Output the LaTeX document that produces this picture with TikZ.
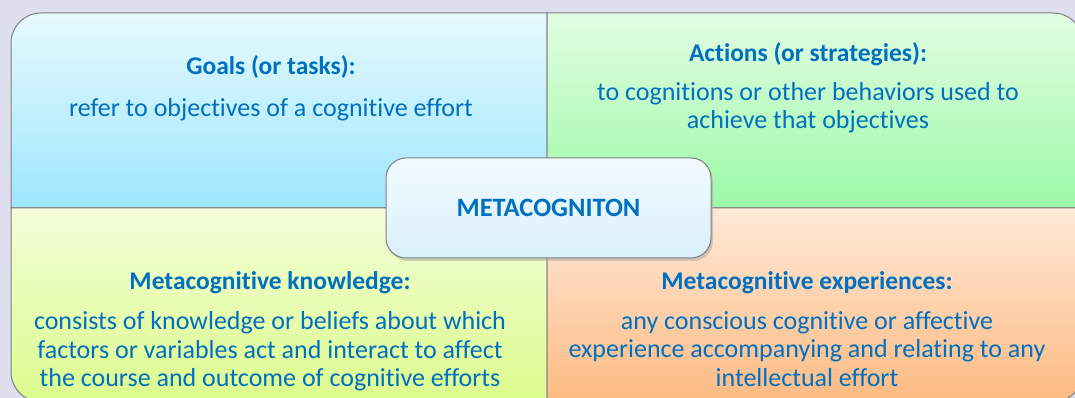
\documentclass[tikz,border=0pt]{standalone}
\usepackage{fontspec}
\setmainfont[Ligatures={NoCommon,NoContextual}]{Carlito}
\usepackage{tikz}
\usetikzlibrary{positioning,shadows}
\usepackage{xcolor}
\definecolor{bgcolor}{HTML}{DFE0EF}
\definecolor{edgecolor}{HTML}{7F7F7F}
\definecolor{textblue}{HTML}{0070C0}
\definecolor{goalstop}{HTML}{E6F9FE}
\definecolor{goalsbot}{HTML}{9EE6FC}
\definecolor{actionstop}{HTML}{E3FDE3}
\definecolor{actionsbot}{HTML}{9BF9A6}
\definecolor{knowtop}{HTML}{F3FDD9}
\definecolor{knowbot}{HTML}{DCFC8C}
\definecolor{exptop}{HTML}{FFE9D8}
\definecolor{expbot}{HTML}{FDBA82}
\definecolor{coretop}{HTML}{F2FAFF}
\definecolor{corebot}{HTML}{DAF0FC}

\begin{document}
\begin{tikzpicture}[x=1pt, y=1pt,
    quad/.style={draw=edgecolor, line width=1pt},
    heading/.style={inner sep=0pt, font=\fontsize{25.5}{28}\selectfont\bfseries, text=textblue},
    body/.style={inner sep=0pt, align=center, font=\fontsize{26}{28.5}\selectfont, text=textblue},
    core/.style={rectangle, rounded corners=20pt, draw=edgecolor, line width=1pt, top color=coretop, bottom color=corebot, minimum width=325pt, minimum height=100pt, drop shadow={shadow xshift=2pt, shadow yshift=-3pt, fill=black!35}},
    node distance=20pt,
]
    % Background
    \fill[bgcolor] (0,0) rectangle (1075,398);
    \useasboundingbox (0,0) rectangle (1075,398);

    % Quadrants
    \shade[quad, top color=goalstop, bottom color=goalsbot] (547,190) -- (11,190) -- (11,355) arc[start angle=180, end angle=90, radius=30] -- (547,385) -- cycle;
    \shade[quad, top color=actionstop, bottom color=actionsbot] (547,190) -- (547,385) -- (1053,385) arc[start angle=90, end angle=0, radius=30] -- (1083,190) -- cycle;
    \shade[quad, top color=knowtop, bottom color=knowbot] (547,190) -- (11,190) -- (11,26) arc[start angle=180, end angle=270, radius=30] -- (547,-4) -- cycle;
    \shade[quad, top color=exptop, bottom color=expbot] (547,190) -- (1083,190) -- (1083,26) arc[start angle=0, end angle=-90, radius=30] -- (547,-4) -- cycle;

    % Texts
    \node[heading] (goalsT) at (271,331) {Goals (or tasks):};
    \node[body, below=of goalsT] (goalsB) {refer to objectives of a cognitive effort};

    \node[heading] (actionsT) at (808,344) {Actions (or strategies):};
    \node[body, below=16pt of actionsT] (actionsB) {to cognitions or other behaviors used to\\achieve that objectives};

    \node[heading] (knowT) at (270,115) {Metacognitive knowledge:};
    \node[body, below=17pt of knowT] (knowB) {consists of knowledge or beliefs about which\\factors or variables act and interact to affect\\the course and outcome of cognitive efforts};

    \node[heading] (expT) at (807,115) {Metacognitive experiences:};
    \node[body, below=17pt of expT] (expB) {any conscious cognitive or affective\\experience accompanying and relating to any\\intellectual effort};

    % Centre
    \node[core, font=\fontsize{26.5}{30}\selectfont\bfseries, text=textblue] (meta) at (548.5,190) {METACOGNITON};
\end{tikzpicture}
\end{document}
